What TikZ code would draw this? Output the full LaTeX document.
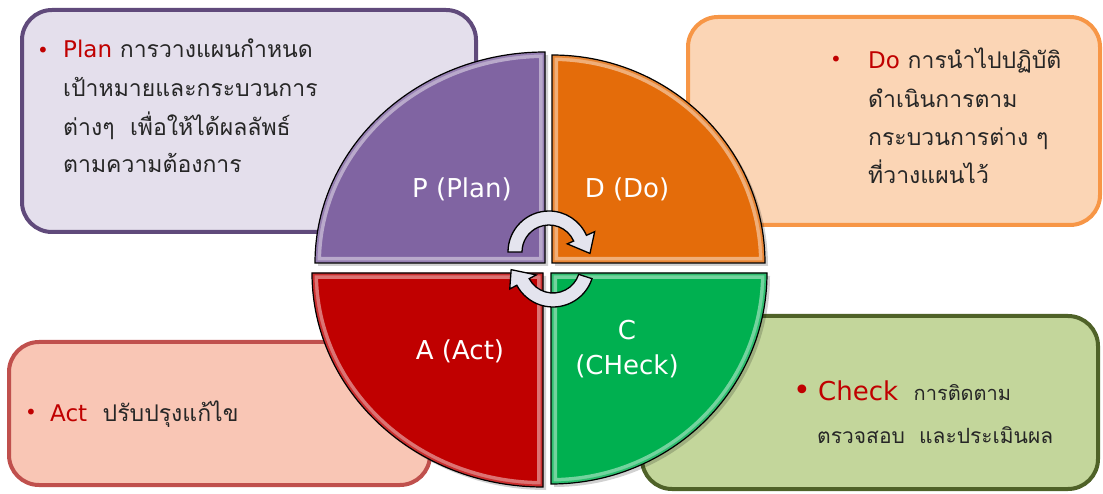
\documentclass[tikz,border=0pt]{standalone}
\usepackage{fontspec}
\setmainfont{DejaVu Sans}
\newfontfamily\thai[Script=Thai]{Loma}
\definecolor{planborder}{HTML}{604A7B}
\definecolor{planfill}{HTML}{E4DFEC}
\definecolor{doborder}{HTML}{F79646}
\definecolor{dofill}{HTML}{FBD5B5}
\definecolor{actborder}{HTML}{C0504D}
\definecolor{actfill}{HTML}{F9C6B5}
\definecolor{checkborder}{HTML}{4F6228}
\definecolor{checkfill}{HTML}{C3D69B}
\definecolor{pcol}{HTML}{8064A2}
\definecolor{dcol}{HTML}{E46C0A}
\definecolor{acol}{HTML}{C00000}
\definecolor{ccol}{HTML}{00B050}
\definecolor{keyred}{HTML}{C00000}
\definecolor{textgray}{HTML}{262626}
\definecolor{arrowfill}{HTML}{E4E4EE}
\newcommand\kw[1]{{\normalfont\color{keyred}#1}}
\begin{document}
\begin{tikzpicture}[x=1pt,y=1pt,
  infobox/.style={rounded corners=30pt, line width=4pt},
  qlabel/.style={text=white, inner sep=0pt, font=\fontsize{26}{30}\selectfont},
  thaitext/.style={anchor=base west, inner sep=0pt, text=textgray, font=\thai\fontsize{23}{28}\selectfont},
  bulletmark/.style={anchor=base, inner sep=0pt, text=keyred, font=\fontsize{20}{22}\selectfont},
  rim/.style={line width=12pt, opacity=0.45},
  quadedge/.style={draw=black, line width=1.2pt},
  arrowshape/.style={draw=black, line width=1.3pt, fill=arrowfill}]
\useasboundingbox (0,0) rectangle (1103,493);

% ---------- info boxes ----------
\draw[infobox, draw=planborder, fill=planfill] (22,483) rectangle (476,261);
\draw[infobox, draw=doborder, fill=dofill] (688,476) rectangle (1100,268);
\draw[infobox, draw=actborder, fill=actfill] (9,151) rectangle (430,8);
\draw[infobox, draw=checkborder, fill=checkfill] (642,177) rectangle (1098,4);

% ---------- quadrants ----------
\def\ppath{(545,230) -- (545,441) arc[start angle=90, end angle=180, x radius=230, y radius=211] -- cycle}
\def\dpath{(552,230) -- (765,230) arc[start angle=0, end angle=90, x radius=213, y radius=208] -- cycle}
\def\apath{(543,220) -- (312,220) arc[start angle=180, end angle=270, x radius=231, y radius=214] -- cycle}
\def\cpath{(551,220) -- (551,9) arc[start angle=270, end angle=360, x radius=216, y radius=211] -- cycle}

\foreach \pth/\col in {\ppath/pcol, \dpath/dcol, \apath/acol, \cpath/ccol}{
  \fill[black, opacity=0.18, shift={(3,-3)}] \pth;
  \fill[\col] \pth;
  \begin{scope}
    \clip \pth;
    \draw[rim, draw=white] \pth;
    \draw[line width=5pt, draw=\col, opacity=0.6] \pth;
  \end{scope}
  \draw[quadedge] \pth;
}

% ---------- quadrant labels ----------
\node[qlabel] (plabel) at (462,304) {P (Plan)};
\node[qlabel] (dlabel) at (627,304) {D (Do)};
\node[qlabel] (alabel) at (460,142) {A (Act)};
\node[qlabel] (clabel) at (627,163) {C};
\node[qlabel] (cchk) at (627,127) {(CHeck)};

% ---------- circular arrows ----------
\begin{scope}[shift={(549,241)}]
  \draw[arrowshape] (180:27) -- (180:41) arc[start angle=180, end angle=24, radius=41]
     -- (24:50) -- (-2:41) -- (24:20) -- (24:27)
     arc[start angle=24, end angle=180, radius=27] -- cycle;
\end{scope}
\begin{scope}[shift={(553,227)}]
  \draw[arrowshape] (-18:27) -- (-18:41) arc[start angle=-18, end angle=-152, radius=41]
     -- (-152:49) -- (-175:42) -- (-152:19) -- (-152:27)
     arc[start angle=-152, end angle=-18, radius=27] -- cycle;
\end{scope}

% ---------- Plan text ----------
\node[bulletmark] (planbullet) at (43,435) {•};
\node[thaitext] (plan1) at (63,435) {\kw{Plan} การวางแผนกำหนด};
\node[thaitext] (plan2) at (63,396) {เป้าหมายและกระบวนการ};
\node[thaitext] (plan3) at (63,357) {ต่างๆ\ \ เพื่อให้ได้ผลลัพธ์};
\node[thaitext] (plan4) at (63,320) {ตามความต้องการ};

% ---------- Do text ----------
\node[bulletmark] (dobullet) at (836,426) {•};
\node[thaitext] (do1) at (868,424) {\kw{Do} การนำไปปฏิบัติ};
\node[thaitext] (do2) at (868,385) {ดำเนินการตาม};
\node[thaitext] (do3) at (868,347) {กระบวนการต่าง ๆ};
\node[thaitext] (do4) at (868,309) {ที่วางแผนไว้};

% ---------- Act text ----------
\node[bulletmark] (actbullet) at (31,74) {•};
\node[thaitext] (act1) at (50,72) {\kw{Act}\ \ ปรับปรุงแก้ไข};

% ---------- Check text ----------
\node[bulletmark, font=\fontsize{30}{32}\selectfont] (checkbullet) at (802,93) {•};
\node[thaitext] (check1) at (818,93) {{\fontsize{26}{30}\selectfont\kw{Check}}\ \ {\fontsize{20}{24}\selectfont การติดตาม}};
\node[thaitext, font=\thai\fontsize{21}{26}\selectfont] (check2) at (817,50) {ตรวจสอบ\ \ และประเมินผล};
\end{tikzpicture}
\end{document}
